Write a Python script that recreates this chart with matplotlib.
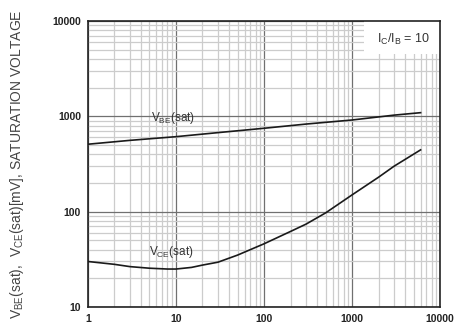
import numpy as np
import matplotlib
matplotlib.use('Agg')
import matplotlib.pyplot as plt
from matplotlib.ticker import FixedLocator, NullFormatter
from matplotlib.patches import Rectangle

plt.rcParams['font.family'] = ['Liberation Sans', 'DejaVu Sans']
plt.rcParams['mathtext.fontset'] = 'custom'
plt.rcParams['mathtext.rm'] = 'Liberation Sans'

# Collector current IC [mA] and saturation voltages [mV]
ic_vbe = [1, 3, 10, 30, 100, 300, 1000, 3000, 6000]
vbe_sat = [510, 560, 612, 675, 750, 830, 916, 1030, 1093]

ic_vce = [1, 2, 3, 5, 8, 10, 15, 20, 30, 50, 100, 200, 300, 500, 1000, 2000, 3000, 6000]
vce_sat = [30, 28, 26.5, 25.5, 25, 25, 26, 27.5, 29.5, 35, 46, 62, 74, 97, 150, 230, 300, 445]

x_ticks = [1, 10, 100, 1000, 10000]
y_ticks = [10, 100, 1000, 10000]

fig = plt.figure(figsize=(4.58, 3.29), dpi=100)
ax = fig.add_axes([0.192, 0.067, 0.769, 0.869])

ax.set_xscale('log')
ax.set_yscale('log')
ax.set_xlim(1, 10000)
ax.set_ylim(10, 10000)

ax.grid(which='minor', color='#cccccc', linewidth=0.9, zorder=0)
ax.grid(which='major', color='#707070', linewidth=0.9, zorder=0)
ax.set_axisbelow(True)

# white box behind the IC/IB label
ax.add_patch(Rectangle((0.785, 0.885), 0.215, 0.115, transform=ax.transAxes,
                       facecolor='white', edgecolor='none', zorder=1))

ax.plot(ic_vbe, vbe_sat, color='#1a1a1a', linewidth=1.2, zorder=3)
ax.plot(ic_vce, vce_sat, color='#1a1a1a', linewidth=1.2, zorder=3)

ax.text(9.2, 960, r'V$_{\mathrm{BE}}$(sat)', fontsize=8.5, ha='center', va='center',
        color='#333333', zorder=4)
ax.text(8.8, 38, r'V$_{\mathrm{CE}}$(sat)', fontsize=8.5, ha='center', va='center',
        color='#333333', zorder=4)
ax.text(0.895, 0.935, r'I$_{\mathrm{C}}$/I$_{\mathrm{B}}$ = 10', transform=ax.transAxes,
        fontsize=9, ha='center', va='center', color='#333333', zorder=4)

ax.xaxis.set_major_locator(FixedLocator(x_ticks))
ax.yaxis.set_major_locator(FixedLocator(y_ticks))
ax.set_xticklabels([str(v) for v in x_ticks], fontsize=7.5, fontweight='bold', color='#222222')
ax.set_yticklabels([str(v) for v in y_ticks], fontsize=7.5, fontweight='bold', color='#222222')
ax.xaxis.set_minor_formatter(NullFormatter())
ax.yaxis.set_minor_formatter(NullFormatter())
ax.tick_params(which='both', length=0, pad=5)

for s in ax.spines.values():
    s.set_color('#222222')
    s.set_linewidth(1.2)

ax.set_ylabel(r'V$_{\mathrm{BE}}$(sat),  V$_{\mathrm{CE}}$(sat)[mV], SATURATION VOLTAGE',
              fontsize=10, color='#444444')
ax.yaxis.set_label_coords(-0.175, 0.5)

fig.savefig('out.png', dpi=100, facecolor='white')
